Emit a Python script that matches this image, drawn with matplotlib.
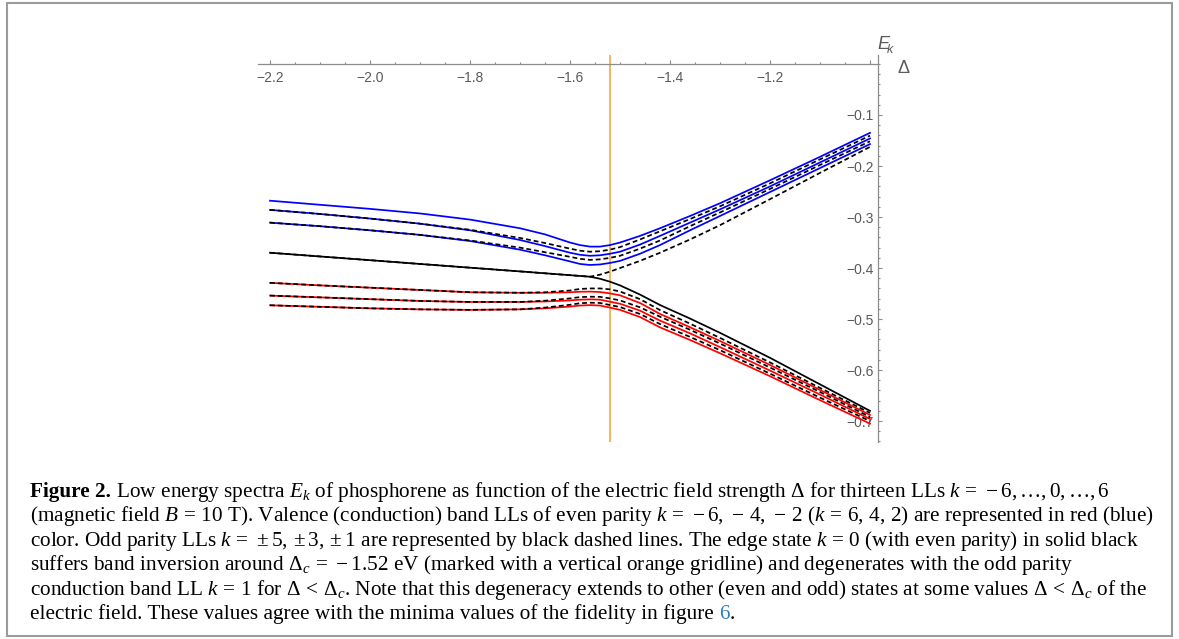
import matplotlib
matplotlib.use("Agg")
import matplotlib.pyplot as plt
from matplotlib.ticker import FixedLocator, MultipleLocator, FixedFormatter
from matplotlib.patches import Rectangle

plt.rcParams['mathtext.fontset'] = 'custom'
plt.rcParams['mathtext.rm'] = 'Liberation Serif'
plt.rcParams['mathtext.it'] = 'Liberation Serif:italic'
plt.rcParams['mathtext.bf'] = 'Liberation Serif:bold'

# electric field strength Delta (eV)
delta = [-2.2, -2.1, -2.0, -1.9, -1.8, -1.7, -1.65, -1.6, -1.58, -1.56,
         -1.54, -1.52, -1.5, -1.46, -1.42, -1.36, -1.3, -1.2, -1.1, -1.0]

# conduction band Landau levels
E_k6 = [-0.268, -0.276, -0.284, -0.293, -0.305, -0.322, -0.334, -0.350, -0.355, -0.358,
        -0.358, -0.355, -0.350, -0.337, -0.322, -0.298, -0.273, -0.228, -0.182, -0.135]
E_k5 = [-0.286, -0.294, -0.303, -0.313, -0.325, -0.341, -0.351, -0.362, -0.366, -0.368,
        -0.367, -0.364, -0.359, -0.344, -0.328, -0.304, -0.279, -0.234, -0.187, -0.1405]
E_k4 = [-0.286, -0.294, -0.303, -0.313, -0.326, -0.345, -0.357, -0.370, -0.374, -0.376,
        -0.375, -0.372, -0.368, -0.354, -0.337, -0.311, -0.285, -0.240, -0.193, -0.146]
E_k3 = [-0.311, -0.318, -0.326, -0.335, -0.346, -0.360, -0.369, -0.378, -0.382, -0.384,
        -0.383, -0.380, -0.376, -0.362, -0.346, -0.318, -0.291, -0.245, -0.198, -0.1515]
E_k2 = [-0.311, -0.318, -0.326, -0.335, -0.347, -0.364, -0.375, -0.387, -0.392, -0.394,
        -0.393, -0.390, -0.386, -0.372, -0.355, -0.326, -0.298, -0.251, -0.204, -0.157]
E_k1 = [-0.370, -0.3773, -0.3846, -0.392, -0.3993, -0.4066, -0.4103, -0.414, -0.4155, -0.417,
        -0.413, -0.407, -0.400, -0.386, -0.370, -0.344, -0.316, -0.265, -0.2135, -0.1625]
# edge state
E_k0 = [-0.370, -0.3773, -0.3846, -0.392, -0.3993, -0.4066, -0.4103, -0.414, -0.4155, -0.417,
        -0.421, -0.4268, -0.434, -0.452, -0.4725, -0.499, -0.527, -0.576, -0.628, -0.680]
# valence band Landau levels
E_km1 = [-0.429, -0.434, -0.4385, -0.443, -0.4475, -0.4485, -0.4475, -0.444, -0.441, -0.440,
         -0.440, -0.4418, -0.446, -0.461, -0.4824, -0.509, -0.537, -0.585, -0.635, -0.684]
E_km2 = [-0.429, -0.434, -0.4385, -0.443, -0.4475, -0.4485, -0.4485, -0.4475, -0.4465, -0.4462,
         -0.447, -0.4497, -0.4535, -0.4685, -0.490, -0.516, -0.543, -0.590, -0.639, -0.688]
E_km3 = [-0.454, -0.4575, -0.461, -0.4645, -0.4665, -0.4665, -0.464, -0.4595, -0.457, -0.4562,
         -0.4565, -0.4595, -0.4635, -0.477, -0.4954, -0.521, -0.548, -0.595, -0.643, -0.692]
E_km4 = [-0.454, -0.4575, -0.461, -0.4645, -0.4665, -0.4665, -0.4655, -0.4635, -0.462, -0.4614,
         -0.462, -0.466, -0.470, -0.4835, -0.503, -0.528, -0.555, -0.601, -0.648, -0.696]
E_km5 = [-0.473, -0.476, -0.479, -0.481, -0.482, -0.481, -0.4775, -0.472, -0.469, -0.468,
         -0.4685, -0.4725, -0.4765, -0.490, -0.5098, -0.535, -0.561, -0.607, -0.654, -0.700]
E_km6 = [-0.473, -0.476, -0.479, -0.481, -0.482, -0.481, -0.479, -0.4755, -0.4735, -0.4727,
         -0.4735, -0.4775, -0.482, -0.496, -0.5163, -0.541, -0.567, -0.612, -0.659, -0.705]

delta_c = -1.52

x_ticks = [-2.2, -2.0, -1.8, -1.6, -1.4, -1.2, -1.0]
x_tick_labels = ['\u22122.2', '\u22122.0', '\u22121.8', '\u22121.6', '\u22121.4', '\u22121.2', '']
y_ticks = [-0.1, -0.2, -0.3, -0.4, -0.5, -0.6, -0.7]
y_tick_labels = ['\u22120.1', '\u22120.2', '\u22120.3', '\u22120.4', '\u22120.5', '\u22120.6', '\u22120.7']

W, H = 1179, 639
fig = plt.figure(figsize=(W / 100, H / 100), dpi=100)


def frac_rect(x0, y0, x1, y1):
    return [x0 / W, 1 - y1 / H, (x1 - x0) / W, (y1 - y0) / H]


ax = fig.add_axes(frac_rect(258, 55, 878, 442))
ax.set_xlim(-2.224, -0.984)
ax.set_ylim(-0.741, 0.0176)
ax.patch.set_alpha(0)

axis_gray = '#8c8c8c'
label_gray = '#5a5a5a'
for side in ('top', 'right'):
    ax.spines[side].set_visible(False)
ax.spines['bottom'].set_position(('data', 0.0))
ax.spines['left'].set_position(('data', -0.984))
for side in ('bottom', 'left'):
    ax.spines[side].set_color(axis_gray)
    ax.spines[side].set_linewidth(0.9)

ax.xaxis.set_major_locator(FixedLocator(x_ticks))
ax.xaxis.set_major_formatter(FixedFormatter(x_tick_labels))
ax.xaxis.set_minor_locator(MultipleLocator(0.05))
ax.yaxis.set_major_locator(FixedLocator(y_ticks))
ax.yaxis.set_major_formatter(FixedFormatter(y_tick_labels))
ax.yaxis.set_minor_locator(MultipleLocator(0.02))
ax.tick_params(which='both', direction='in', color=axis_gray, width=0.8,
               labelcolor=label_gray, labelsize=10)
ax.tick_params(which='major', length=2.6)
ax.tick_params(which='minor', length=1.6)
ax.tick_params(axis='x', pad=5)
ax.tick_params(axis='y', pad=3)
for lab in ax.get_xticklabels() + ax.get_yticklabels():
    lab.set_family('Liberation Sans')

ax.axvline(delta_c, color='#f7a541', lw=1.2, zorder=1)

lw = 1.25
dash = (2.8, 1.7)
ax.plot(delta, E_k0, color='black', lw=lw, zorder=2)
for ys in (E_k6, E_k4, E_k2):
    ax.plot(delta, ys, color='#0000ff', lw=lw, zorder=2)
for ys in (E_km2, E_km4, E_km6):
    ax.plot(delta, ys, color='#ff0000', lw=lw, zorder=2)
for ys in (E_k5, E_k3, E_k1, E_km1, E_km3, E_km5):
    ax.plot(delta, ys, color='black', lw=lw, dashes=dash, zorder=3)

# axis names
fig.text(877 / W, 1 - 49 / H, 'E', fontsize=13, style='italic', color=label_gray,
         family='Liberation Sans', ha='left', va='baseline')
fig.text(887 / W, 1 - 53 / H, 'k', fontsize=9, style='italic', color=label_gray,
         family='Liberation Sans', ha='left', va='baseline')
fig.text(897 / W, 1 - 73 / H, '\u0394', fontsize=13, color=label_gray,
         family='Liberation Sans', ha='left', va='baseline')

# outer frame
fig.add_artist(Rectangle((7 / W, 1 - 636 / H), 1165 / W, 633 / H, transform=fig.transFigure,
                         fill=False, edgecolor='#9b9b9b', lw=1.5))

# caption
cap_lines = [
    [("Figure 2.", dict(weight='bold')),
     (" Low energy spectra $E_k$ of phosphorene as function of the electric field strength "
      r"$\Delta$ for thirteen LLs $k\,=\,-6,\ldots,0,\ldots,6$", {})],
    [(r"(magnetic field $B\,=\,10$ T). Valence (conduction) band LLs of even parity "
      r"$k\,=\,-6,\,-\,4,\,-\,2$ ($k\,=\,6,\,4,\,2$) are represented in red (blue)", {})],
    [(r"color. Odd parity LLs $k\,=\,\pm5,\pm3,\pm1$ are represented by black dashed lines. "
      r"The edge state $k\,=\,0$ (with even parity) in solid black", {})],
    [(r"suffers band inversion around $\Delta_c\,=\,-1.52$ eV (marked with a vertical "
      r"orange gridline) and degenerates with the odd parity", {})],
    [(r"conduction band LL $k\,=\,1$ for $\Delta\,<\,\Delta_c$. Note that this degeneracy "
      r"extends to other (even and odd) states at some values $\Delta\,<\,\Delta_c$ of the", {})],
    [("electric field. These values agree with the minima values of the fidelity in figure", {}),
     ("6", dict(color='#2f7fc1')), (".", {})],
]
cap_baselines = [497, 521, 546, 570, 595, 619]
cap_x = 30

renderer = fig.canvas.get_renderer()
probe = fig.text(0, 0, cap_lines[1][0][0], fontsize=10, family='Liberation Serif')
probe_w = probe.get_window_extent(renderer).width
probe.remove()
cap_size = 10 * 1122 / probe_w

for segs, base in zip(cap_lines, cap_baselines):
    x = cap_x
    for i, (s, kw) in enumerate(segs):
        if s == "6":
            x += 0.25 * cap_size * 100 / 72
        t = fig.text(x / W, 1 - base / H, s, fontsize=cap_size, family='Liberation Serif',
                     ha='left', va='baseline', color=kw.get('color', 'black'),
                     weight=kw.get('weight', 'normal'))
        x = t.get_window_extent(renderer).x1

fig.savefig('out.png', dpi=100)
